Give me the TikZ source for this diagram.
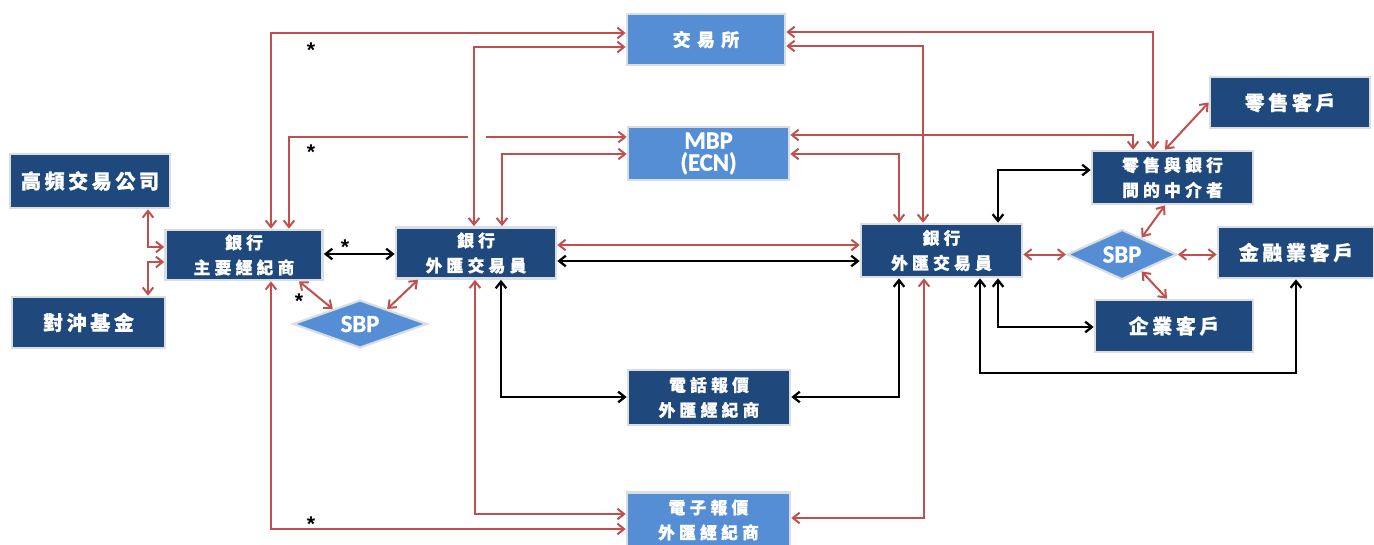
\documentclass[tikz,border=0pt]{standalone}
\usepackage{fontspec}
\usetikzlibrary{arrows.meta,shapes.geometric,calc}
\newfontfamily\cjkA{Noto Sans CJK TC}[LetterSpace=18,FakeBold=0.7]
\newfontfamily\cjkT{Noto Sans CJK TC}[LetterSpace=25,FakeBold=0.7]
\newfontfamily\cjkW{Noto Sans CJK TC}[LetterSpace=35,FakeBold=0.7]
\newfontfamily\calb{Carlito}[UprightFont={* Bold},FakeBold=1.2]
\newfontfamily\starfont{Liberation Sans}
\newdimen\pxu \pxu=0.75pt
\definecolor{lnred}{RGB}{192,80,77}
\definecolor{dkblue}{RGB}{31,73,125}
\definecolor{ltblue}{RGB}{85,142,213}
\definecolor{rim}{RGB}{218,221,226}
\tikzset{
  box/.style={rectangle, draw=rim, line width=2pt, inner sep=0pt, text=white},
  dbox/.style={box, fill=dkblue},
  lbox/.style={box, fill=ltblue},
  sz/.style 2 args={minimum width=#1\pxu, minimum height=#2\pxu},
  one/.style={font=\cjkA\bfseries\fontsize{15}{17}\selectfont},
  two/.style={font=\cjkT\bfseries\fontsize{12.6}{18.75}\selectfont, align=center},
  dia/.style={diamond, draw=rim, line width=1.6pt, fill=ltblue, text=white, inner sep=0pt,
    font=\calb\bfseries\fontsize{18.5}{20}\selectfont},
  >={Straight Barb[length=5pt,width=8pt]},
  rl/.style={draw=lnred, line width=1.5pt, <->},
  bl/.style={draw=black, line width=1.7pt, <->},
  starlbl/.style={font=\starfont\bfseries\fontsize{16}{16}\selectfont, inner sep=0pt}
}
\begin{document}
\begin{tikzpicture}[x=0.75pt,y=-0.75pt]
\fill[white] (0,0) rectangle (1374,544);
\useasboundingbox (0,0) rectangle (1374,544);

% nodes
\node[lbox,sz={158}{51},font=\cjkW\bfseries\fontsize{13.5}{16}\selectfont] (exch) at (706,39.5) {交易所};
\node[lbox,sz={161}{53},font=\calb\bfseries\fontsize{18.5}{16.5}\selectfont,align=center] (mbp) at (708.5,153.5) {MBP\\(ECN)};
\node[dbox,sz={160}{54},one] (hft) at (90,181) {高頻交易公司};
\node[dbox,sz={153}{51},one] (hedge) at (88.5,322.5) {對沖基金};
\node[dbox,sz={157}{50},two] (pb) at (244,255) {銀行\\主要經紀商};
\node[dbox,sz={160}{51},two] (ldeal) at (476,253) {銀行\\外匯交易員};
\node[dia,aspect=2.8,minimum width=134\pxu,minimum height=48\pxu] (sbpL) at (360,324) {SBP};
\node[dbox,sz={162}{55},two] (phone) at (709,397.5) {電話報價\\外匯經紀商};
\node[lbox,sz={163}{55},two] (elec) at (708.5,520) {電子報價\\外匯經紀商};
\node[dbox,sz={161}{53},two] (rdeal) at (941.5,250.5) {銀行\\外匯交易員};
\node[dbox,sz={161}{53},two] (inter) at (1172.5,177.5) {零售與銀行\\間的中介者};
\node[dbox,sz={160}{51},one] (retail) at (1290,102.5) {零售客戶};
\node[dia,aspect=2.15,minimum width=110\pxu,minimum height=50\pxu] (sbpR) at (1122,254.5) {SBP};
\node[dbox,sz={156}{51},one] (fin) at (1296,252.5) {金融業客戶};
\node[dbox,sz={158}{52},one] (corp) at (1174,326) {企業客戶};

% bend coordinates
\coordinate (k1) at (271,33);
\coordinate (k2) at (289,137);
\coordinate (k3) at (474,47);
\coordinate (k4) at (502,154);
\coordinate (k5) at (1153,32);
\coordinate (k6) at (923,46);
\coordinate (k7) at (1133,135);
\coordinate (k8) at (899,154);
\coordinate (k9) at (0,245);
\coordinate (k10) at (0,261);
\coordinate (k11) at (0,254);
\coordinate (k12) at (148,247);
\coordinate (k13) at (148,262);
\coordinate (k14) at (271,529);
\coordinate (k15) at (475,514);
\coordinate (k16) at (924,518);
\coordinate (k17) at (501,397);
\coordinate (k18) at (899,397);
\coordinate (k19) at (998,170);
\coordinate (k20) at (998,327);
\coordinate (k21) at (980,373);
\coordinate (k22) at (299,0);
\coordinate (k23) at (418,0);
\coordinate (k24) at (1165,0);
\coordinate (k25) at (1167,0);

% red connectors to exchange / MBP
\draw[rl] (pb.north -| k1) |- (exch.west |- k1);
\draw[rl] (pb.north -| k2) |- (mbp.west |- k2);
\fill[white] (468,131) rectangle (486,143);
\draw[rl] (ldeal.north -| k3) |- (exch.west |- k3);
\draw[rl] (ldeal.north -| k4) |- (mbp.west |- k4);
\draw[rl] (exch.east |- k5) -| (inter.north -| k5);
\draw[rl] (exch.east |- k6) -| (rdeal.north -| k6);
\draw[rl] (mbp.east |- k7) -| (inter.north -| k7);
\draw[rl] (mbp.east |- k8) -| (rdeal.north -| k8);

% dealers
\draw[rl] (ldeal.east |- k9) -- (rdeal.west |- k9);
\draw[bl] (ldeal.east |- k10) -- (rdeal.west |- k10);
\draw[bl] (pb.east |- k11) -- (ldeal.west |- k11);
\draw[rl] (pb.south -| k22) -- ($(sbpL.north)!0.4!(sbpL.west)$);
\draw[rl] (ldeal.south -| k23) -- ($(sbpL.north)!0.4!(sbpL.east)$);
\draw[rl] (hft.south -| k12) |- (pb.west |- k12);
\draw[rl] (hedge.north -| k13) |- (pb.west |- k13);

% electronic / phone brokers
\draw[rl] (pb.south -| k14) |- (elec.west |- k14);
\draw[rl] (ldeal.south -| k15) |- (elec.west |- k15);
\draw[rl] (rdeal.south -| k16) |- (elec.east |- k16);
\draw[bl] (ldeal.south -| k17) |- (phone.west |- k17);
\draw[bl] (rdeal.south -| k18) |- (phone.east |- k18);

% right side
\draw[bl] (rdeal.north -| k19) |- (inter.west |- k19);
\draw[bl] (rdeal.south -| k20) |- (corp.west |- k20);
\draw[bl] (rdeal.south -| k21) |- (fin.south |- k21) -- (fin.south);
\draw[rl] (rdeal.east |- sbpR) -- (sbpR.west);
\draw[rl] (sbpR.east) -- (fin.west |- sbpR.east);
\draw[rl] ($(sbpR.north)!0.35!(sbpR.east)$) -- (inter.south -| k24);
\draw[rl] ($(sbpR.south)!0.35!(sbpR.east)$) -- (corp.north -| k25);
\draw[rl] (inter.north -| k24) -- (retail.west);

% stars
\node[starlbl] (s1) at (311,50) {*};
\node[starlbl] (s2) at (311,152) {*};
\node[starlbl] (s3) at (345,247) {*};
\node[starlbl] (s4) at (299,301) {*};
\node[starlbl] (s5) at (311,524) {*};
\end{tikzpicture}
\end{document}
